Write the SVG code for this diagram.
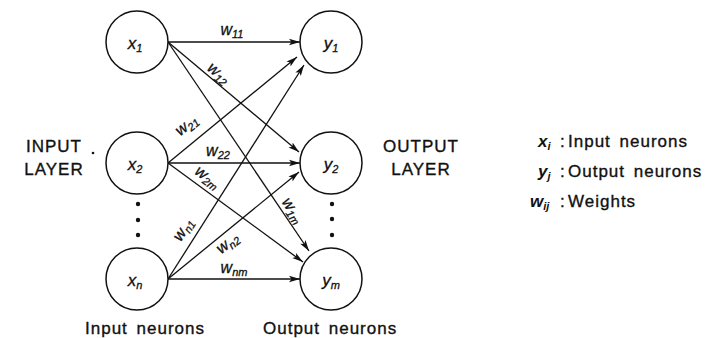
<svg xmlns="http://www.w3.org/2000/svg" width="726" height="338" viewBox="0 0 726 338">
<style>
.node circle{fill:#fff;stroke:#111;stroke-width:1.5}
.edge{stroke:#111;stroke-width:1.3;fill:none;marker-end:url(#ah)}
text{font-family:"Liberation Sans",Arial,sans-serif;fill:#111}
.nl{font-size:17px;font-style:italic;stroke:#111;stroke-width:0.3}
.wl{font-size:16px;font-style:italic;stroke:#111;stroke-width:0.3}
.sub{font-size:11px}
.lab{font-size:17px;letter-spacing:1px;word-spacing:3px;stroke:#111;stroke-width:0.35}
.lv{font-size:17px;font-style:italic;font-weight:bold}
.dot{fill:#111}
</style>
<defs>
<marker id="ah" markerUnits="userSpaceOnUse" markerWidth="12" markerHeight="8" refX="11" refY="4" orient="auto">
<path d="M0,0.8 L11,4 L0,7.2 L2.5,4 Z" fill="#111"/>
</marker>
</defs>
<rect width="726" height="338" fill="#fff"/>
<g id="connectors">
<line class="edge" x1="168" y1="42" x2="300" y2="42"/>
<line class="edge" x1="168" y1="42" x2="299" y2="152"/>
<line class="edge" x1="168" y1="42" x2="309" y2="251"/>
<line class="edge" x1="168" y1="163" x2="297" y2="57"/>
<line class="edge" x1="168" y1="163" x2="300" y2="163"/>
<line class="edge" x1="168" y1="163" x2="303" y2="262"/>
<line class="edge" x1="168" y1="279" x2="304" y2="65"/>
<line class="edge" x1="168" y1="279" x2="299" y2="172"/>
<line class="edge" x1="168" y1="279" x2="300" y2="279"/>
<text class="wl" transform="translate(232,31)" y="4" text-anchor="middle">w<tspan class="sub" dy="3">11</tspan></text>
<text class="wl" transform="translate(218,74) rotate(40)" y="4" text-anchor="middle">w<tspan class="sub" dy="3">12</tspan></text>
<text class="wl" transform="translate(292,211) rotate(56)" y="4" text-anchor="middle">w<tspan class="sub" dy="3">1m</tspan></text>
<text class="wl" transform="translate(187,126) rotate(-39)" y="4" text-anchor="middle">w<tspan class="sub" dy="3">21</tspan></text>
<text class="wl" transform="translate(218,152)" y="4" text-anchor="middle">w<tspan class="sub" dy="3">22</tspan></text>
<text class="wl" transform="translate(207,178) rotate(36)" y="4" text-anchor="middle">w<tspan class="sub" dy="3">2m</tspan></text>
<text class="wl" transform="translate(184,230) rotate(-57)" y="4" text-anchor="middle">w<tspan class="sub" dy="3">n1</tspan></text>
<text class="wl" transform="translate(228,244) rotate(-39)" y="4" text-anchor="middle">w<tspan class="sub" dy="3">n2</tspan></text>
<text class="wl" transform="translate(234,269)" y="4" text-anchor="middle">w<tspan class="sub" dy="3">nm</tspan></text>
</g>
<g id="x1" class="node"><circle cx="137" cy="42" r="31"/><text class="nl" x="135" y="49" text-anchor="middle">x<tspan class="sub" dy="3">1</tspan></text></g>
<g id="x2" class="node"><circle cx="137" cy="163" r="31"/><text class="nl" x="135" y="170" text-anchor="middle">x<tspan class="sub" dy="3">2</tspan></text></g>
<g id="xn" class="node"><circle cx="137" cy="279" r="31"/><text class="nl" x="135" y="286" text-anchor="middle">x<tspan class="sub" dy="3">n</tspan></text></g>
<g id="y1" class="node"><circle cx="331" cy="42" r="31"/><text class="nl" x="331" y="49" text-anchor="middle">y<tspan class="sub" dy="3">1</tspan></text></g>
<g id="y2" class="node"><circle cx="331" cy="163" r="31"/><text class="nl" x="331" y="170" text-anchor="middle">y<tspan class="sub" dy="3">2</tspan></text></g>
<g id="ym" class="node"><circle cx="331" cy="279" r="31"/><text class="nl" x="331" y="286" text-anchor="middle">y<tspan class="sub" dy="3">m</tspan></text></g>
<g id="dots">
<circle class="dot" cx="138" cy="204" r="2.2"/><circle class="dot" cx="138" cy="220" r="2.2"/><circle class="dot" cx="138" cy="235" r="2.2"/>
<circle class="dot" cx="332" cy="204" r="2.2"/><circle class="dot" cx="332" cy="219" r="2.2"/><circle class="dot" cx="332" cy="235" r="2.2"/>
<circle class="dot" cx="93" cy="153" r="1.3"/>
</g>
<g id="layer-labels">
<text class="lab" x="54" y="152" text-anchor="middle">INPUT</text>
<text class="lab" x="54" y="175" text-anchor="middle">LAYER</text>
<text class="lab" x="421" y="152" text-anchor="middle">OUTPUT</text>
<text class="lab" x="421" y="175" text-anchor="middle">LAYER</text>
<text class="lab" x="85" y="334">Input neurons</text>
<text class="lab" x="263" y="334">Output neurons</text>
</g>
<g id="legend">
<text class="lv" x="538" y="147">x<tspan class="sub" dy="3">i</tspan></text>
<text class="lab" x="560" y="147">:</text>
<text class="lab" x="568" y="147">Input neurons</text>
<text class="lv" x="538" y="177">y<tspan class="sub" dy="3">j</tspan></text>
<text class="lab" x="560" y="177">:</text>
<text class="lab" x="568" y="177">Output neurons</text>
<text class="lv" x="530" y="207">w<tspan class="sub" dy="3">ij</tspan></text>
<text class="lab" x="560" y="207">:</text>
<text class="lab" x="568" y="207">Weights</text>
</g>
</svg>
